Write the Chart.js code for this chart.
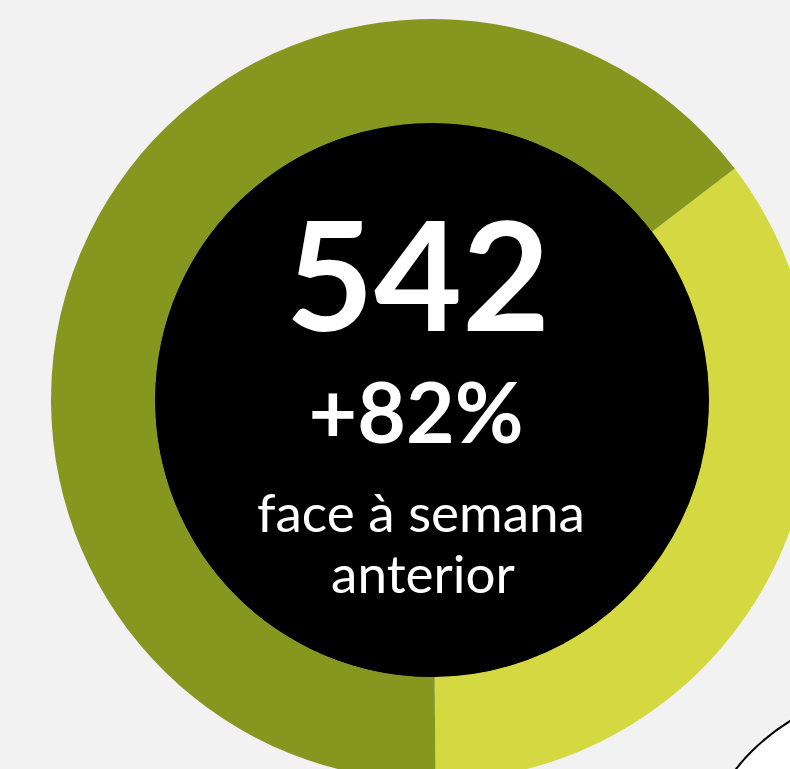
<!DOCTYPE html>
<html>
<head>
<meta charset="utf-8">
<script src="https://cdn.jsdelivr.net/npm/chart.js@4/dist/chart.umd.min.js"></script>
<style>
  html, body { margin:0; padding:0; width:790px; height:769px; overflow:hidden; background:#F2F2F2; }
  #wrap { position:absolute; left:51px; top:19px; width:762px; height:762px; }
  #deco { position:absolute; left:689px; top:689px; width:418px; height:418px; border-radius:50%; background:#fff; border:2px solid #000; }
  .t { position:absolute; width:400px; text-align:center; color:#fff; font-family:Lato, sans-serif; line-height:1; white-space:nowrap; }
</style>
</head>
<body>
<div id="deco"></div>
<div id="wrap"><canvas id="c"></canvas></div>
<div class="t" style="left:218px;top:196px;font-size:152px;font-weight:700;">542</div>
<div class="t" style="left:216px;top:369px;font-size:84px;font-weight:700;">+82%</div>
<div class="t" style="left:221px;top:485px;font-size:53px;font-weight:400;">face à semana</div>
<div class="t" style="left:223px;top:546px;font-size:53px;font-weight:400;">anterior</div>
<script>
const categories = ["Esta semana (parte)", "Restante"];
const values = [191, 351];
const colors = ["#D4D841", "#85971F"];

const centerDisc = {
  id: 'centerDisc',
  beforeDatasetsDraw(chart) {
    const meta = chart.getDatasetMeta(0);
    const arc = meta.data[0];
    if (!arc) return;
    const ctx = chart.ctx;
    ctx.save();
    ctx.beginPath();
    ctx.arc(arc.x, arc.y, arc.innerRadius + 0.5, 0, Math.PI * 2);
    ctx.fillStyle = '#000';
    ctx.fill();
    ctx.restore();
  }
};

new Chart(document.getElementById('c'), {
  type: 'doughnut',
  data: {
    labels: categories,
    datasets: [{ data: values, backgroundColor: colors, borderWidth: 0 }]
  },
  options: {
    responsive: true,
    maintainAspectRatio: false,
    animation: false,
    cutout: '72.7%',
    rotation: 52.6,
    layout: { padding: 0 },
    plugins: { legend: { display: false }, tooltip: { enabled: false } }
  },
  plugins: [centerDisc]
});
</script>
</body>
</html>
